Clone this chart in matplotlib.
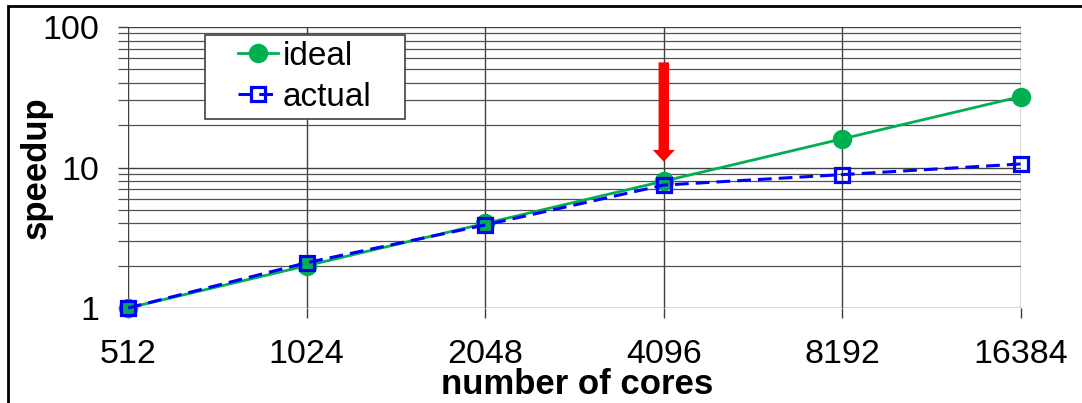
import numpy as np
import matplotlib.pyplot as plt
from matplotlib.patches import Rectangle
from matplotlib.ticker import LogLocator, NullFormatter, FixedLocator

plt.rcParams['font.family'] = ['Liberation Sans', 'DejaVu Sans']

# ---------- data ----------
cores = ['512', '1024', '2048', '4096', '8192', '16384']
ideal = [1, 2, 4, 8, 16, 32]
actual = [1.0, 2.1, 3.9, 7.5, 8.9, 10.6]
arrow_at = '4096'
arrow_from, arrow_to = 56, 11.0

W, H = 1082, 403
fig = plt.figure(figsize=(W / 100, H / 100), dpi=100)
ax = fig.add_axes([128 / W, 1 - 308 / H, (1021 - 128) / W, (308 - 27) / H])

x = np.arange(len(cores))
ax.plot(x, ideal, color='#00b050', lw=2, marker='o', ms=13,
        mec='#00b050', mfc='#00b050', label='ideal', zorder=3, clip_on=False)
ax.plot(x, actual, color='#0000ff', lw=2.2, ls=(0, (4.5, 2.3)), marker='s', ms=10.5,
        mec='#0000ff', mfc='none', mew=2.3, label='actual', zorder=4, clip_on=False)

# red arrow marking 4096 cores
xi = cores.index(arrow_at)
ax.annotate('', xy=(xi, arrow_to), xytext=(xi, arrow_from),
            arrowprops=dict(arrowstyle='simple,head_width=1.6,head_length=0.85,tail_width=0.75',
                            color='#ff0000', lw=0, shrinkA=0, shrinkB=0), zorder=5)

ax.set_yscale('log')
ax.set_ylim(1, 100)
ax.set_xlim(0, len(cores) - 1)
ax.yaxis.set_major_locator(FixedLocator([1, 10, 100]))
ax.set_yticklabels(['1', '10', '100'])
ax.yaxis.set_minor_locator(LogLocator(base=10, subs=np.arange(2, 10)))
ax.yaxis.set_minor_formatter(NullFormatter())
ax.set_xticks(x)
ax.set_xticklabels(cores)

ax.grid(True, which='major', color='#404040', lw=1)
ax.grid(True, which='minor', axis='y', color='#505050', lw=0.9)
for s in ax.spines.values():
    s.set_visible(False)
ax.tick_params(axis='y', which='major', length=7, width=1, color='#404040',
               labelsize=24.5, pad=14)
ax.tick_params(axis='y', which='minor', length=7, width=0.9, color='#505050')
ax.tick_params(axis='x', length=7, width=1, color='#404040', labelsize=24.5, pad=15)

ax.set_xlabel('number of cores', fontsize=25, fontweight='bold')
ax.xaxis.set_label_coords(0.503, -0.215)
ax.set_ylabel('speedup', fontsize=25, fontweight='bold', va='center')
ax.yaxis.set_label_coords(-0.103, 0.5)

# legend without its own frame; the frame is drawn below as a box
leg = ax.legend(loc='upper left', bbox_to_anchor=((238 - 128) / 893, (308 - 41) / 281),
                fontsize=24, frameon=False, handlelength=1.2,
                handletextpad=0.15, borderpad=0, labelspacing=0.3,
                borderaxespad=0)
leg.set_zorder(7)
ax.add_patch(Rectangle((205 / W, 1 - 119 / H), 200 / W, 84 / H,
                       transform=fig.transFigure, facecolor='white',
                       edgecolor='#404040', lw=1.2, zorder=6, clip_on=False))

# outer border of the figure
fig.patches.append(Rectangle((8 / W, -0.1), 1.2, 1 - 6 / H + 0.1,
                             transform=fig.transFigure, fill=False,
                             edgecolor='black', lw=2))

fig.savefig('out.png', dpi=100)
